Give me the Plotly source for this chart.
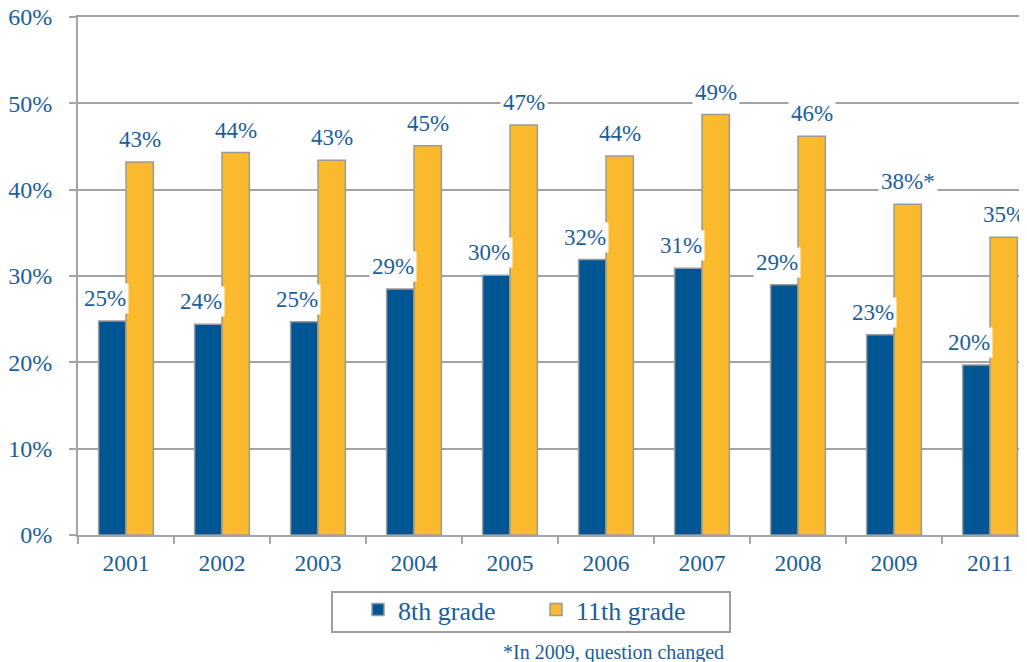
import plotly.graph_objects as go

years = ['2001', '2002', '2003', '2004', '2005', '2006', '2007', '2008', '2009', '2011']
grade8 = [24.8, 24.4, 24.7, 28.5, 30.1, 31.9, 30.9, 29.0, 23.2, 19.7]
grade11 = [43.2, 44.3, 43.4, 45.1, 47.5, 43.9, 48.7, 46.2, 38.3, 34.5]
labels8 = ['25%', '24%', '25%', '29%', '30%', '32%', '31%', '29%', '23%', '20%']
labels11 = ['43%', '44%', '43%', '45%', '47%', '44%', '49%', '46%', '38%*', '35%']
y_ticks = [0, 10, 20, 30, 40, 50, 60]

TEXT = '#1B5E9B'
GRID = '#A3A3A3'
FONT = 'Liberation Serif'

# the page body has an 8px margin, so the figure is sized/offset to compensate
W, H = 1019, 654
L, R, T, B = 70, 0, 9, 127
x_range = [-0.5, 9.385]
bargap = 0.43

plot_w = W - L - R
plot_h = H - T - B
cat_px = plot_w / (x_range[1] - x_range[0])
bar_px = cat_px * (1 - bargap) / 2

fig = go.Figure()
fig.add_trace(go.Bar(
    x=years, y=grade8, name='8th grade',
    marker=dict(color='#005694', line=dict(color='#9A9A9A', width=1.5)),
))
fig.add_trace(go.Bar(
    x=years, y=grade11, name='11th grade',
    marker=dict(color='#FBB92E', line=dict(color='#9A9A9A', width=1.5)),
))

# data labels with white boxes; x given as category index (numeric-looking
# category names would otherwise be read as positions)
for vals, labs, shift in [(grade8, labels8, -bar_px / 2 - 7), (grade11, labels11, bar_px / 2)]:
    for i, (v, t) in enumerate(zip(vals, labs)):
        fig.add_annotation(
            x=i, y=v, text=t, showarrow=False,
            xshift=shift, yshift=7, yanchor='bottom',
            bgcolor='white', borderpad=2,
            font=dict(family=FONT, size=23, color=TEXT),
        )

fig.add_annotation(
    xref='paper', yref='paper', x=(718 - L) / plot_w, y=(527 - 631) / plot_h,
    xanchor='right', yanchor='top', showarrow=False,
    text='*In 2009, question changed',
    font=dict(family=FONT, size=20, color=TEXT),
)

# legend frame
fig.add_shape(
    type='rect', xref='paper', yref='paper',
    x0=(324 - L) / plot_w, x1=(722 - L) / plot_w,
    y0=(527 - 584) / plot_h, y1=(527 - 624) / plot_h,
    line=dict(color='#A0A0A0', width=2), fillcolor='rgba(0,0,0,0)',
)

fig.update_layout(
    width=W, height=H,
    margin=dict(l=L, r=R, t=T, b=B),
    paper_bgcolor='white', plot_bgcolor='white',
    barmode='group', bargap=bargap, bargroupgap=0,
    font=dict(family=FONT, size=23, color=TEXT),
    showlegend=True,
    legend=dict(
        orientation='h',
        x=(528 - L) / plot_w, xanchor='center',
        y=(527 - 578) / plot_h, yanchor='top',
        borderwidth=0, bgcolor='rgba(0,0,0,0)',
        font=dict(family=FONT, size=26, color=TEXT),
        entrywidth=133,
    ),
    xaxis=dict(
        type='category', range=x_range, automargin=False,
        showline=True, mirror=True, linecolor=GRID, linewidth=2,
        ticks='outside', tickson='boundaries', ticklen=7, tickcolor=GRID, tickwidth=2,
        ticklabelstandoff=6,
        showgrid=False,
        tickfont=dict(family=FONT, size=23.5, color=TEXT),
    ),
    yaxis=dict(
        range=[0, 60], tickvals=y_ticks, automargin=False,
        ticktext=[f'{v}%' for v in y_ticks],
        showline=True, linecolor=GRID, linewidth=2,
        ticks='outside', ticklen=7, tickcolor=GRID, tickwidth=2,
        ticklabelstandoff=12, ticklabeloverflow='allow',
        showgrid=True, gridcolor=GRID, gridwidth=2,
        zeroline=False,
        tickfont=dict(family=FONT, size=24, color=TEXT),
    ),
)

fig.write_html("out.html")
